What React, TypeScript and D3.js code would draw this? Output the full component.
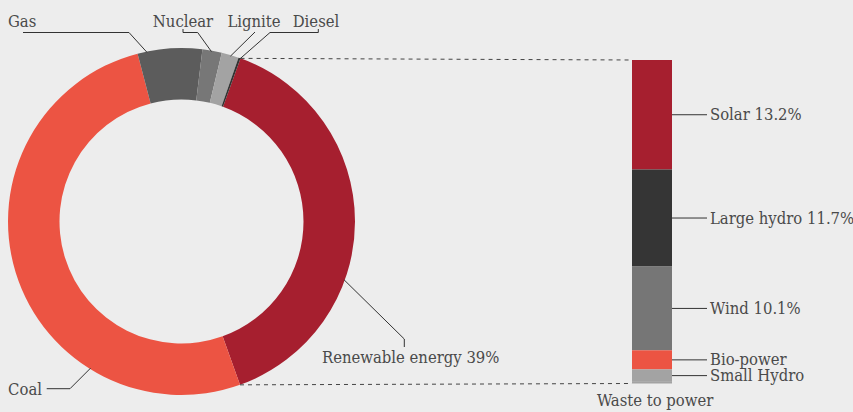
import React from "react";
import * as d3 from "d3";

// ---- Data ----
const mixCategories = ["Renewable energy", "Coal", "Gas", "Nuclear", "Lignite", "Diesel"];
const mixValues = [39, 51.4, 6.0, 1.8, 1.6, 0.2];
const mixColors = ["#a61f2f", "#ec5443", "#5c5c5c", "#777777", "#a3a3a3", "#333333"];

const renewCategories = ["Solar", "Large hydro", "Wind", "Bio-power", "Small Hydro", "Waste to power"];
const renewValues = [13.2, 11.7, 10.1, 2.3, 1.5, 0.2];
const renewLabels = ["13.2%", "11.7%", "10.1%", "", "", ""];
const renewColors = ["#a61f2f", "#353535", "#767676", "#ec5443", "#a3a3a3", "#a3a3a3"];

// ---- Layout ----
const W = 853;
const H = 412;
const CX = 181.5;
const CY = 221.5;
const R_OUT = 173.5;
const R_IN = 122;
const START_DEG = 19.9;
const BAR_X = 632;
const BAR_W = 40;
const BAR_TOP = 60;
const BAR_BOTTOM = 383.5;
const FONT = "'DejaVu Serif Condensed', 'DejaVu Serif', serif";
const FONT_SIZE = 16.5;
const TEXT_COLOR = "#4a4a4a";

// donut label layout: anchor angle (deg, clockwise from top), path after anchor, text
const donutLabelLayout = [
  { angle: 109.7, pts: [[404.3, 339], [404.3, 347]], tx: 322, ty: 363, anchor: "start" },
  { angle: 211.8, pts: [[70, 388.7], [46.7, 388.7]], tx: 42, ty: 395, anchor: "end" },
  { angle: 348.5, pts: [[129, 32.5], [23, 32.5]], tx: 8, ty: 27, anchor: "start" },
  { angle: 10.0, pts: [[197.7, 32.5], [183, 32.5], [183, 29]], tx: 183, ty: 27, anchor: "middle" },
  { angle: 16.5, pts: [[255, 32]], tx: 254, ty: 27, anchor: "middle" },
  { angle: 19.7, pts: [[270, 32.5], [318.3, 32.5], [318.3, 29]], tx: 316, ty: 27, anchor: "middle" },
];

export default function App() {
  const toRad = (d: number) => (d * Math.PI) / 180;
  const pie = d3
    .pie<number>()
    .sort(null)
    .value((d) => d)
    .startAngle(toRad(START_DEG))
    .endAngle(toRad(START_DEG) + 2 * Math.PI);
  const arcs = pie(mixValues);
  const arcGen = d3.arc<d3.PieArcDatum<number>>().innerRadius(R_IN).outerRadius(R_OUT);

  const renewArc = arcs[0];
  const ptAt = (a: number, r: number): [number, number] => [CX + r * Math.sin(a), CY - r * Math.cos(a)];
  const renewStartPt = ptAt(renewArc.startAngle, R_OUT);
  const renewEndPt = ptAt(renewArc.endAngle, R_OUT);

  const total = d3.sum(renewValues);
  const y = d3.scaleLinear().domain([0, total]).range([BAR_TOP, BAR_BOTTOM]);
  let acc = 0;
  const segs = renewValues.map((v, i) => {
    const s = { i, y0: y(acc), y1: y(acc + v) };
    acc += v;
    return s;
  });

  const line = d3.line();
  const textProps = { fontFamily: FONT, fontSize: FONT_SIZE, fill: TEXT_COLOR, style: { fontStretch: "condensed" } as any };

  return (
    <svg width={W} height={H} style={{ display: "block", position: "absolute", left: 0, top: 0, background: "#ededed" }}>
      <rect x={0} y={0} width={W} height={H} fill="#ededed" />
      <g transform={`translate(${CX},${CY})`}>
        {arcs.map((a, i) => (
          <path key={i} d={arcGen(a) || ""} fill={mixColors[i]} />
        ))}
      </g>
      {/* dashed connectors */}
      <line x1={renewStartPt[0]} y1={renewStartPt[1]} x2={BAR_X} y2={BAR_TOP} stroke="#444" strokeWidth={1} strokeDasharray="4,4" />
      <line x1={renewEndPt[0]} y1={renewEndPt[1]} x2={BAR_X} y2={BAR_BOTTOM} stroke="#444" strokeWidth={1} strokeDasharray="4,4" />
      {/* donut labels */}
      {donutLabelLayout.map((l, i) => {
        const p = ptAt(toRad(l.angle), R_OUT - 1);
        const pts = [p, ...l.pts] as [number, number][];
        return (
          <g key={i}>
            <path d={line(pts) || ""} fill="none" stroke="#333" strokeWidth={1} />
            <text x={l.tx} y={l.ty} textAnchor={l.anchor as any} {...textProps}>
              {mixCategories[i]}
              {i === 0 ? ` ${mixValues[0]}%` : ""}
            </text>
          </g>
        );
      })}
      {/* stacked bar */}
      {segs.map((s) => (
        <rect key={s.i} x={BAR_X} y={s.y0} width={BAR_W} height={Math.max(0, s.y1 - s.y0)} fill={renewColors[s.i]} />
      ))}
      {segs.slice(0, 5).map((s) => {
        const my = (s.y0 + s.y1) / 2;
        return (
          <g key={s.i}>
            <line x1={BAR_X + BAR_W} x2={BAR_X + BAR_W + 35} y1={my} y2={my} stroke="#333" strokeWidth={1} />
            <text x={BAR_X + BAR_W + 38} y={my + 5.5} {...textProps}>
              {renewCategories[s.i]}
              {renewLabels[s.i] ? ` ${renewLabels[s.i]}` : ""}
            </text>
          </g>
        );
      })}
      <text x={597} y={406} {...textProps}>
        {renewCategories[5]}
      </text>
    </svg>
  );
}
